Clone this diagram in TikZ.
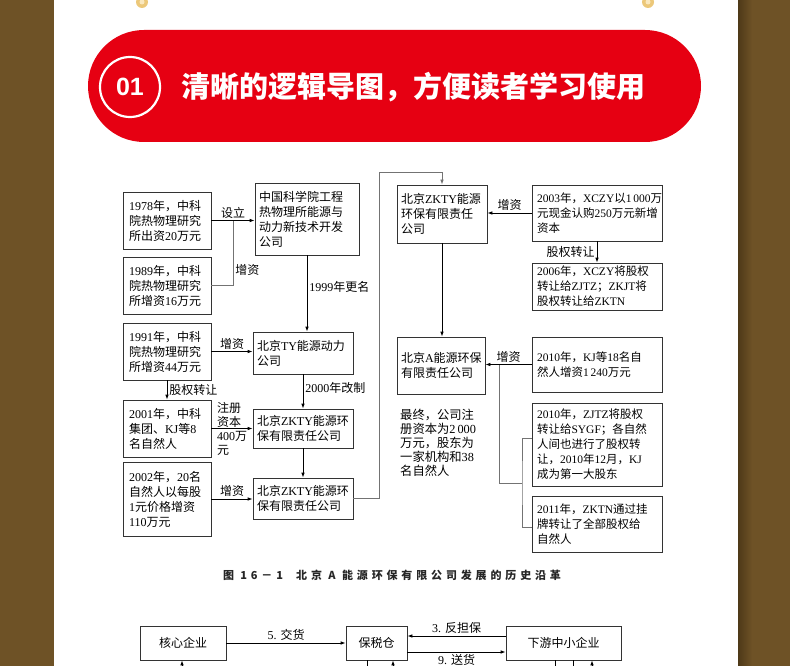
\documentclass[tikz,border=0pt]{standalone}
\usepackage{fontspec}
\setmainfont{Liberation Serif}
\setsansfont{Liberation Sans}
\newfontfamily\hanfont{Noto Sans CJK SC}
\newfontfamily\capfont{Noto Sans CJK SC}[LetterSpace=35]
\usetikzlibrary{arrows.meta}

% Chinese characters switch to the CJK font, Latin stays in the main font
\XeTeXinterchartokenstate=1
\newXeTeXintercharclass\hanclass
\newcount\hancount
\hancount="4E00
\loop \XeTeXcharclass\hancount=\hanclass \ifnum\hancount<"9FFF \advance\hancount by 1 \repeat
\hancount="3000
\loop \XeTeXcharclass\hancount=\hanclass \ifnum\hancount<"303F \advance\hancount by 1 \repeat
\hancount="FF00
\loop \XeTeXcharclass\hancount=\hanclass \ifnum\hancount<"FFEF \advance\hancount by 1 \repeat
\XeTeXinterchartoks 0 \hanclass = {\begingroup\hanfont}
\XeTeXinterchartoks 4095 \hanclass = {\begingroup\hanfont}
\XeTeXinterchartoks \hanclass 0 = {\endgroup}
\XeTeXinterchartoks \hanclass 4095 = {\endgroup}
\newcommand\capstyle{\XeTeXinterchartokenstate=0\relax\capfont}

\definecolor{pagebrown}{RGB}{110,82,38}
\definecolor{pagedark}{RGB}{78,57,24}
\definecolor{bannerred}{RGB}{230,0,18}
\definecolor{ringgold}{RGB}{236,200,122}
\definecolor{ringlight}{RGB}{250,232,190}

\begin{document}
\begin{tikzpicture}[
      x=1pt, y=-1pt,
      box/.style 2 args = {rectangle, draw=black!80, line width=0.8pt,
                     text width=#1, minimum height=#2,
                     inner xsep=4pt, inner ysep=1pt, align=left,
                     font=\fontsize{12}{15}\selectfont},
      lbox/.style 2 args = {box={#1}{#2}, inner xsep=6pt},
      rbox/.style 2 args = {box={#1}{#2}, inner xsep=5pt,
                     font=\fontsize{11.5}{15}\selectfont},
      arr/.style   = {-{Latex[length=5pt, width=3.6pt]}, line width=0.8pt},
      garr/.style  = {arr, color=black!55},
      gline/.style = {line width=0.8pt, color=black!55},
      lbl/.style   = {font=\fontsize{12}{14}\selectfont, inner sep=2pt, text=black},
    ]
    \useasboundingbox (0,0) rectangle (790,666);

    % page and background
    \fill[pagebrown] (0,0) rectangle (54,666);
    \fill[pagebrown] (738,0) rectangle (790,666);
    \shade[left color=pagedark, right color=pagebrown] (738,0) rectangle (752,666);
    \fill[white] (54,0) rectangle (738,666);
    \fill[ringgold] (142,2) circle[radius=6pt];
    \fill[ringlight] (142,2) circle[radius=2.5pt];
    \fill[ringgold] (648,2) circle[radius=6pt];
    \fill[ringlight] (648,2) circle[radius=2.5pt];

    % banner
    \fill[bannerred, rounded corners=56pt] (88,30) rectangle (701,142);
    \node[circle, draw=white, line width=2.2pt, minimum size=60pt, text=white,
          font=\sffamily\bfseries\fontsize{25}{25}\selectfont] (num) at (130,87) {01};
    \node[anchor=west, inner sep=0pt, text=white,
          font=\bfseries\fontsize{29}{30}\selectfont] (title) at (181,87)
          {清晰的逻辑导图，方便读者学习使用};

    % left column
    \node[lbox={76pt}{57pt}] (inst78) at (167,220.5) {1978年，中科\\院热物理研究\\所出资20万元};
    \node[lbox={76pt}{57pt}] (inst89) at (167,285.5) {1989年，中科\\院热物理研究\\所增资16万元};
    \node[lbox={76pt}{57pt}] (inst91) at (167,351.5) {1991年，中科\\院热物理研究\\所增资44万元};
    \node[lbox={76pt}{57pt}] (inst01) at (167,428.5) {2001年，中科\\集团、KJ等8\\名自然人};
    \node[lbox={76pt}{74pt}] (inst02) at (167,499) {2002年，20名\\自然人以每股\\1元价格增资\\110万元};

    % company column
    \node[box={96pt}{72pt}, inner xsep=4pt] (kfgs) at (307,219) {中国科学院工程\\热物理所能源与\\动力新技术开发\\公司};
    \node[box={92pt}{42pt}] (ty)   at (303,353) {北京TY能源动力\\公司};
    \node[box={92pt}{39pt}] (zk01) at (303,428.5) {北京ZKTY能源环\\保有限责任公司};
    \node[box={92pt}{41pt}] (zk02) at (303,498.5) {北京ZKTY能源环\\保有限责任公司};

    % right part
    \node[box={82pt}{58pt}]  (zk03)   at (442,214) {北京ZKTY能源\\环保有限责任\\公司};
    \node[box={80pt}{57pt}]  (anergy) at (441,365.5) {北京A能源环保\\有限责任公司};
    \node[rbox={120pt}{56pt}] (xczy)   at (597,213) {2003年，XCZY以1\,000万\\元现金认购250万元新增\\资本};
    \node[rbox={120pt}{47pt}] (zjtz06) at (597,286.5) {2006年，XCZY将股权\\转让给ZJTZ；ZKJT将\\股权转让给ZKTN};
    \node[rbox={120pt}{55pt}] (kj10)   at (597,364.5) {2010年，KJ等18名自\\然人增资1\,240万元};
    \node[rbox={120pt}{83pt}] (sygf10) at (597,444.5) {2010年，ZJTZ将股权\\转让给SYGF；各自然\\人间也进行了股权转\\让，2010年12月，KJ\\成为第一大股东};
    \node[rbox={120pt}{56pt}] (zktn11) at (597,524) {2011年，ZKTN通过挂\\牌转让了全部股权给\\自然人};
    \node[lbl, anchor=north west, align=left, font=\fontsize{12.3}{14}\selectfont] (final) at (398,407)
          {最终，公司注\\册资本为2\,000\\万元，股东为\\一家机构和38\\名自然人};

    % connectors, left half
    \draw[arr] (inst78) -- node[lbl, above]{设立} (inst78 -| kfgs.west);
    \coordinate (jA) at (233,220.5);
    \draw[gline] (inst89) -| node[lbl, right, pos=0.62]{增资} (jA);
    \draw[arr] (kfgs.south) -- node[lbl, right, pos=0.42]{1999年更名} (kfgs.south |- ty.north);
    \draw[arr] (inst91) -- node[lbl, above]{增资} (inst91 -| ty.west);
    \draw[arr] (inst91) -- node[lbl, right]{股权转让} (inst01);
    \draw[arr] (ty) -- node[lbl, right, pos=0.4]{2000年改制} (zk01);
    \draw[arr] (inst01) -- node[lbl, align=left]{注册\\资本\\400万\\元} (inst01 -| zk01.west);
    \draw[arr] (zk01) -- (zk02);
    \draw[arr] (inst02) -- node[lbl, above]{增资} (inst02 -| zk02.west);
    \coordinate (top) at (379,172);
    \draw[garr] (zk02) -| (top) -| (zk03);

    % connectors, right half
    \draw[arr] (xczy) -- node[lbl, above]{增资} (xczy -| zk03.east);
    \draw[arr] (xczy) -- node[lbl, left]{股权转让} (zjtz06);
    \draw[arr] (zk03.south) -- (zk03.south |- anergy.north);
    \draw[arr] (kj10) -- node[lbl, above]{增资} (kj10 -| anergy.east);
    \coordinate (jN) at (499,364.5);
    \coordinate (jO) at (522,483);
    \draw[gline] ([yshift=6.5pt]sygf10.west) -| (jO) |- ([yshift=-3pt]zktn11.west);
    \draw[gline] (jO) -| (jN);

    % caption
    \node[font=\capstyle\bfseries\fontsize{11}{12}\selectfont, text=black!85] (cap) at (392,575)
          {图 16－1\hspace{1.2em}北京 A 能源环保有限公司发展的历史沿革};

    % next figure, cut off by the page
    \node[box={78pt}{34pt}, align=center]  (core) at (183,643) {核心企业};
    \node[box={53pt}{34pt}, align=center]  (bond) at (376.5,643) {保税仓};
    \node[box={107pt}{34pt}, align=center] (sme)  at (563.5,643) {下游中小企业};
    \draw[arr] (core) -- node[lbl, above]{5. 交货} (bond);
    \draw[arr] ([yshift=7pt]sme.west) -- node[lbl, above]{3. 反担保} ([yshift=7pt]bond.east);
    \draw[arr] ([yshift=-9pt]bond.east) -- node[lbl, below]{9. 送货} ([yshift=-9pt]sme.west);
    \coordinate (coreS) at (182,670);
    \coordinate (bondL) at (367,670);
    \coordinate (bondR) at (393,670);
    \coordinate (smeA)  at (555,670);
    \coordinate (smeB)  at (573,670);
    \coordinate (smeC)  at (592,670);
    \draw[arr] (coreS) -- (coreS |- core.south);
    \draw[gline, color=black] (bondL) -- (bondL |- bond.south);
    \draw[arr] (bondR) -- (bondR |- bond.south);
    \draw[gline, color=black] (smeA) -- (smeA |- sme.south);
    \draw[gline, color=black] (smeB) -- (smeB |- sme.south);
    \draw[arr] (smeC) -- (smeC |- sme.south);
\end{tikzpicture}
\end{document}
